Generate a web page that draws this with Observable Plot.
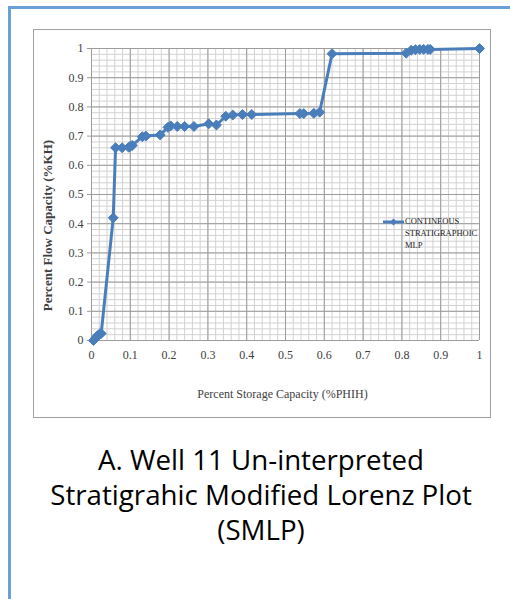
<!DOCTYPE html>
<html>
<head>
<meta charset="utf-8">
<script src="https://cdn.jsdelivr.net/npm/d3@7"></script>
<script src="https://cdn.jsdelivr.net/npm/@observablehq/plot@0.6"></script>
<style>
  html, body { margin: 0; padding: 0; background: #fff; }
  body { width: 510px; height: 599px; overflow: hidden; position: relative; }
  #frame { position: absolute; left: 8px; top: 6px; width: 560px; height: 640px;
           border-left: 3px solid #6a9fd8; border-top: 3px solid #6a9fd8; }
  #chart { position: absolute; left: 33px; top: 29px; width: 456px; height: 387px;
           border: 1px solid #a0a0a0; background: #fff; }
  #chart svg { display: block; }
  #legend { position: absolute; left: 382px; top: 215px; font-family: "Liberation Serif", serif;
            font-size: 8.5px; line-height: 12px; color: #222; }
  #legend svg { position: absolute; left: 0; top: 0; }
  #legend .txt { position: absolute; left: 23px; top: 0; white-space: nowrap; }
  #caption { position: absolute; left: 0; top: 442px; width: 522px; text-align: center;
             font-family: "Open Sans", sans-serif; font-size: 27.7px; line-height: 35px; color: #000; }
</style>
</head>
<body>
<div id="frame"></div>
<div id="chart"></div>
<div id="legend"></div>
<div id="caption"></div>
<script>
// ---- data ----
const storageCapacity = [0.005, 0.012, 0.016, 0.021, 0.025, 0.056, 0.062, 0.079, 0.096, 0.100, 0.105,
  0.131, 0.140, 0.177, 0.197, 0.204, 0.221, 0.240, 0.264, 0.302, 0.322, 0.346, 0.364, 0.389, 0.413,
  0.537, 0.547, 0.573, 0.588, 0.620, 0.811, 0.824, 0.835, 0.846, 0.856, 0.867, 0.873, 1.0];
const flowCapacity = [0.0, 0.010, 0.017, 0.022, 0.024, 0.42, 0.66, 0.66, 0.662, 0.665, 0.668,
  0.698, 0.700, 0.704, 0.73, 0.735, 0.733, 0.733, 0.733, 0.742, 0.738, 0.768, 0.772, 0.774, 0.774,
  0.777, 0.777, 0.778, 0.782, 0.982, 0.984, 0.994, 0.996, 0.997, 0.997, 0.997, 0.997, 1.0];
const xTickValues = [0, 0.1, 0.2, 0.3, 0.4, 0.5, 0.6, 0.7, 0.8, 0.9, 1];
const xTickLabels = ["0", "0.1", "0.2", "0.3", "0.4", "0.5", "0.6", "0.7", "0.8", "0.9", "1"];
const yTickValues = [0, 0.1, 0.2, 0.3, 0.4, 0.5, 0.6, 0.7, 0.8, 0.9, 1];
const yTickLabels = ["0", "0.1", "0.2", "0.3", "0.4", "0.5", "0.6", "0.7", "0.8", "0.9", "1"];
const xTitle = "Percent Storage Capacity (%PHIH)";
const yTitle = "Percent Flow Capacity (%KH)";
const seriesName = ["CONTINEOUS", "STRATIGRAPHOIC", "MLP"];
const captionLines = ["A. Well 11 Un-interpreted", "Stratigrahic Modified Lorenz Plot", "(SMLP)"];

const blue = "#4a7ebb";
const rows = storageCapacity.map((x, i) => ({x, y: flowCapacity[i]}));
const minorGrid = d3.range(0, 51).map(i => i / 50);
const xLab = new Map(xTickValues.map((v, i) => [v, xTickLabels[i]]));
const yLab = new Map(yTickValues.map((v, i) => [v, yTickLabels[i]]));

const chart = Plot.plot({
  width: 456, height: 387,
  marginLeft: 57, marginRight: 11, marginTop: 18, marginBottom: 77,
  x: {domain: [0, 1]},
  y: {domain: [0, 1]},
  style: {fontFamily: "'Liberation Serif', serif", fontSize: "12px", color: "#404040", background: "#fff"},
  marks: [
    Plot.ruleX(minorGrid, {stroke: "#d2d2d2", strokeWidth: 1}),
    Plot.ruleY(minorGrid, {stroke: "#d2d2d2", strokeWidth: 1}),
    Plot.ruleX(xTickValues, {stroke: "#9c9c9c", strokeWidth: 1}),
    Plot.ruleY(yTickValues, {stroke: "#9c9c9c", strokeWidth: 1}),
    Plot.axisX({ticks: xTickValues, tickFormat: d => xLab.get(d), tickSize: 0, tickPadding: 10, label: null, fill: "#404040"}),
    Plot.axisY({ticks: yTickValues, tickFormat: d => yLab.get(d), tickSize: 4, tickPadding: 4, label: null, stroke: "#9c9c9c", fill: "#404040"}),
    Plot.line(rows, {x: "x", y: "y", stroke: blue, strokeWidth: 3, strokeLinejoin: "round"}),
    Plot.dot(rows, {x: "x", y: "y", symbol: "diamond2", r: 4.5, fill: blue, stroke: blue, strokeWidth: 1}),
    Plot.text([yTitle], {frameAnchor: "left", textAnchor: "middle", rotate: -90, dx: -44, dy: 31, fontWeight: "bold", fontSize: 13, fill: "#404040"}),
    Plot.text([xTitle], {frameAnchor: "bottom", dx: -3, dy: 57, fontSize: 12, fill: "#404040"})
  ]
});
document.getElementById("chart").appendChild(chart);

// legend
const legend = document.getElementById("legend");
legend.innerHTML = `<svg width="24" height="14"><line x1="1" y1="7" x2="22" y2="7" stroke="${blue}" stroke-width="3"/>` +
  `<path d="M11.5,3.5 L15,7 L11.5,10.5 L8,7 Z" fill="${blue}"/></svg>` +
  `<div class="txt">${seriesName.join("<br>")}</div>`;

// caption
document.getElementById("caption").innerHTML = captionLines.join("<br>");
</script>
</body>
</html>
